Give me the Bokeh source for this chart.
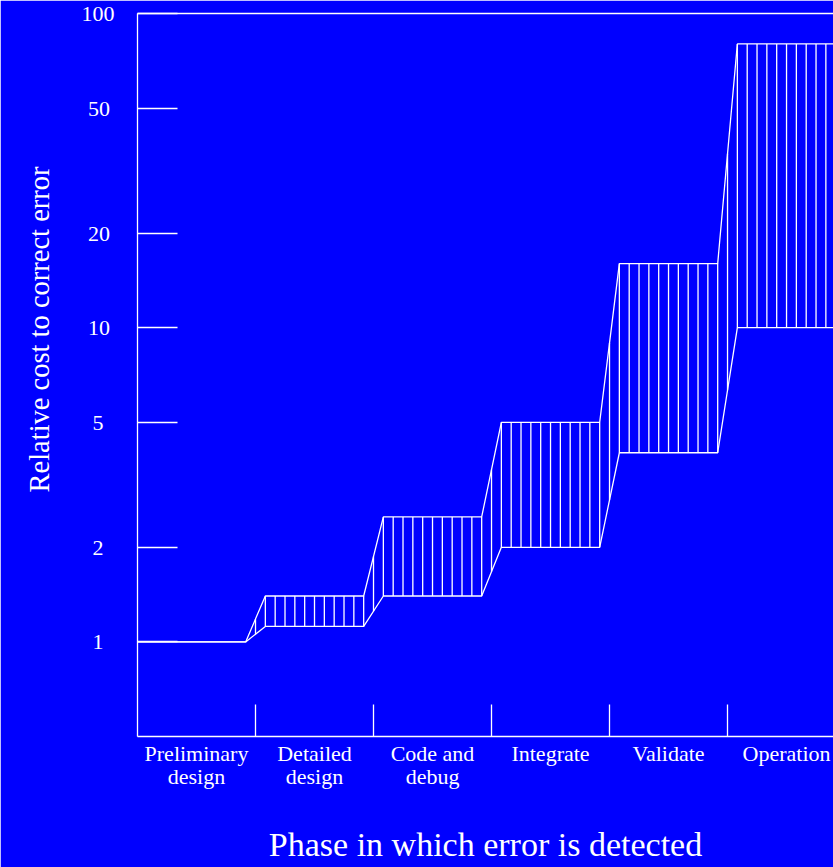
import numpy as np
from bokeh.plotting import figure
from bokeh.models import Range1d, FixedTicker, LinearAxis, Title
from bokeh.embed import file_html
from bokeh.resources import INLINE

# Development phases and the relative cost to fix an error found in each
phases = ["Preliminary\ndesign", "Detailed\ndesign", "Code and\ndebug",
          "Integrate", "Validate", "Operation"]
low_cost = [1.0, 1.12, 1.4, 2.0, 4.0, 10.0]
high_cost = [1.0, 1.4, 2.5, 5.0, 16.0, 80.0]

y_ticks = [1, 2, 5, 10, 20, 50, 100]
y_tick_labels = ["1", "2", "5", "10", "20", "50", "100"]

y_title = "Relative cost to correct error"
x_title = "Phase in which error is detected"

BG = "#0000FF"
FG = "white"
FONT = "Liberation Serif"
STEP = 1.0 / 12      # hatch spacing as a fraction of one phase
LW = 1.3
X_END = 5.898


def centred(label, width=3):
    # pad a tick label with figure/thin spaces so right-aligned labels sit centred
    pad = width - len(label)
    side = "\u2007" * (pad // 2) + ("\u2009" if pad % 2 else "")
    return side + label + side


p = figure(width=833, height=867, x_range=Range1d(0, X_END),
           y_range=Range1d(0.5, 100), y_axis_type="log",
           output_backend="svg", toolbar_location=None,
           min_border_left=137, min_border_right=0,
           min_border_top=13, min_border_bottom=131,
           background_fill_color=BG, border_fill_color=BG,
           outline_line_color=None)
p.grid.visible = False

# plateau corners: each phase occupies its slot minus a short ramp at each side
n = len(phases)
xs, lo, hi = [], [], []
for i in range(n):
    start = i + (STEP if i > 0 else 0.0)
    end = i + 1 - STEP
    xs += [start, end]
    lo += [low_cost[i]] * 2
    hi += [high_cost[i]] * 2
xs = np.array(xs)
log_lo = np.log10(lo)
log_hi = np.log10(hi)

# vertical hatching across the cost band
k = np.arange(1, int(X_END / STEP) + 1)
hx = k * STEP
h_lo = 10 ** np.interp(hx, xs, log_lo)
h_hi = 10 ** np.interp(hx, xs, log_hi)
mask = h_hi > h_lo * 1.0001
p.segment(x0=hx[mask], y0=h_lo[mask], x1=hx[mask], y1=h_hi[mask],
          line_color=FG, line_width=LW)

# band edges
p.line(xs, hi, line_color=FG, line_width=LW)
p.line(xs, lo, line_color=FG, line_width=LW)

# y axis: log scale, inward ticks
ya = p.yaxis[0]
ya.ticker = FixedTicker(ticks=y_ticks, minor_ticks=[])
ya.major_label_overrides = {t: centred(s) for t, s in zip(y_ticks, y_tick_labels)}
ya.axis_line_color = FG
ya.axis_line_width = LW
ya.major_tick_line_color = FG
ya.major_tick_line_width = LW
ya.major_tick_in = 40
ya.major_tick_out = 0
ya.minor_tick_line_color = None
ya.major_label_text_color = FG
ya.major_label_text_font = FONT
ya.major_label_text_font_size = "22px"
ya.major_label_standoff = 23

# x axis: phase names between separator ticks, axis title underneath
xa = p.xaxis[0]
xa.ticker = FixedTicker(ticks=[i + 0.5 for i in range(n)],
                        minor_ticks=list(range(1, n)))
xa.major_label_overrides = {i + 0.5: phases[i] for i in range(n)}
xa.axis_line_color = FG
xa.axis_line_width = LW
xa.major_tick_line_color = None
xa.major_tick_in = 0
xa.major_tick_out = 0
xa.minor_tick_line_color = FG
xa.minor_tick_line_width = LW
xa.minor_tick_in = 32
xa.minor_tick_out = 0
xa.major_label_text_color = FG
xa.major_label_text_font = FONT
xa.major_label_text_font_size = "22px"
xa.major_label_text_line_height = 0.95
xa.major_label_standoff = 4
xa.axis_label = x_title
xa.axis_label_text_color = FG
xa.axis_label_text_font = FONT
xa.axis_label_text_font_size = "34px"
xa.axis_label_text_font_style = "normal"
xa.axis_label_standoff = 34

# top frame line
top = LinearAxis(ticker=FixedTicker(ticks=[], minor_ticks=[]),
                 axis_line_color=FG, axis_line_width=LW,
                 major_tick_line_color=None, minor_tick_line_color=None,
                 major_label_text_font_size="0px")
p.add_layout(top, "above")

# rotated y title, its start placed up from the bottom of the frame
p.add_layout(Title(text=y_title, align="left", offset=244,
                   vertical_align="top", standoff=44,
                   text_color=FG, text_font=FONT,
                   text_font_size="28.5px", text_font_style="normal"), "left")

open("out.html", "w").write(file_html(p, INLINE))
